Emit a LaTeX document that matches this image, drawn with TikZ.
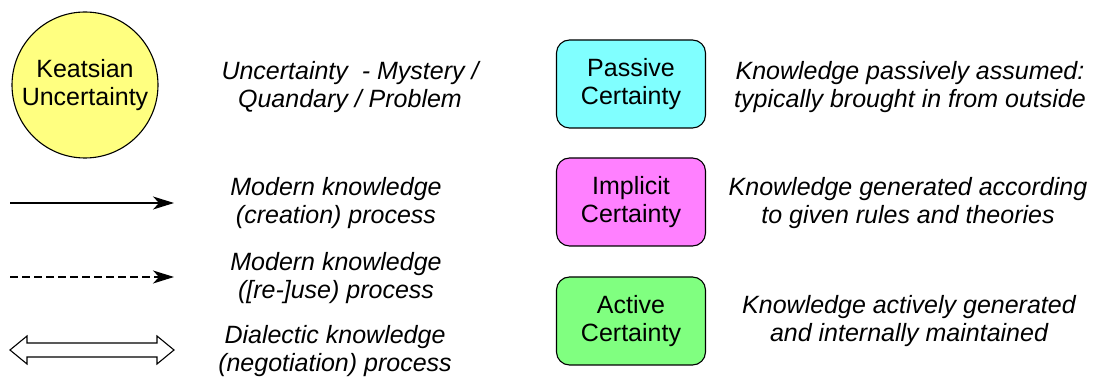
\documentclass[tikz,border=0pt]{standalone}
\usepackage{fontspec}
\setmainfont{Liberation Sans}
\usetikzlibrary{shapes,shapes.geometric,arrows.meta,calc}

\definecolor{keatsYellow}{HTML}{FFFF80}
\definecolor{passiveCyan}{HTML}{80FFFF}
\definecolor{implicitPink}{HTML}{FF80FF}
\definecolor{activeGreen}{HTML}{80FF80}

\begin{document}
\begin{tikzpicture}
        [x=1pt,y=-1pt,line width=1.1pt,
        every node/.style={align=center,font=\fontsize{25}{28.5}\selectfont},
        certBox/.style={draw,rounded corners=13pt,minimum width=149pt,
        minimum height=88pt,inner sep=0pt},
        legendText/.style={font=\fontsize{25}{28.5}\selectfont\itshape},
        legendTip/.style={-{Stealth[length=21pt,width=13pt,inset=6pt]}}]
        \useasboundingbox (0,0) rectangle (1096,379);
        %% symbols
        \node[circle,draw,fill=keatsYellow,minimum size=146pt,inner sep=0pt]
          (keats) at (85,85) {Keatsian\\Uncertainty};
        \node[certBox,fill=passiveCyan] (passive) at (631,84) {Passive\\Certainty};
        \node[certBox,fill=implicitPink] (implicit) at (631,202) {Implicit\\Certainty};
        \node[certBox,fill=activeGreen] (active) at (631,321) {Active\\Certainty};
        %% legend arrows
        \coordinate (solidL) at (10,203);
        \coordinate (solidR) at (174,203);
        \coordinate (dashL) at (10,277);
        \coordinate (dashR) at (174,277);
        \coordinate (dialL) at (10,350);
        \coordinate (dialR) at (174,350);
        \draw[legendTip] (solidL) -- (solidR);
        \draw[legendTip,dash pattern=on 8pt off 4pt] (dashL) -- (dashR);
        \draw (dialL) -- ++(17,-14) -- ++(0,7) -- ($(dialR)+(-17,-7)$)
          -- ++(0,-7) -- (dialR) -- ++(-17,14) -- ++(0,-7)
          -- ($(dialL)+(17,7)$) -- ++(0,7) -- cycle;
        %% explanations
        \foreach \name/\x/\y/\txt in {
          keatsTxt/350/87/{Uncertainty~ - Mystery /\\Quandary / Problem},
          solidTxt/336/203/{Modern knowledge\\(creation) process},
          dashTxt/336/278/{Modern knowledge\\([re-]use) process},
          dialTxt/335/351/{Dialectic knowledge\\(negotiation) process},
          passiveTxt/910/87/{Knowledge passively assumed:\\typically brought in from outside},
          implicitTxt/908/203/{Knowledge generated according\\to given rules and theories},
          activeTxt/909/321/{Knowledge actively generated\\and internally maintained}}
        {
          \node[legendText] (\name) at (\x,\y) {\txt};
        }
\end{tikzpicture}
\end{document}
